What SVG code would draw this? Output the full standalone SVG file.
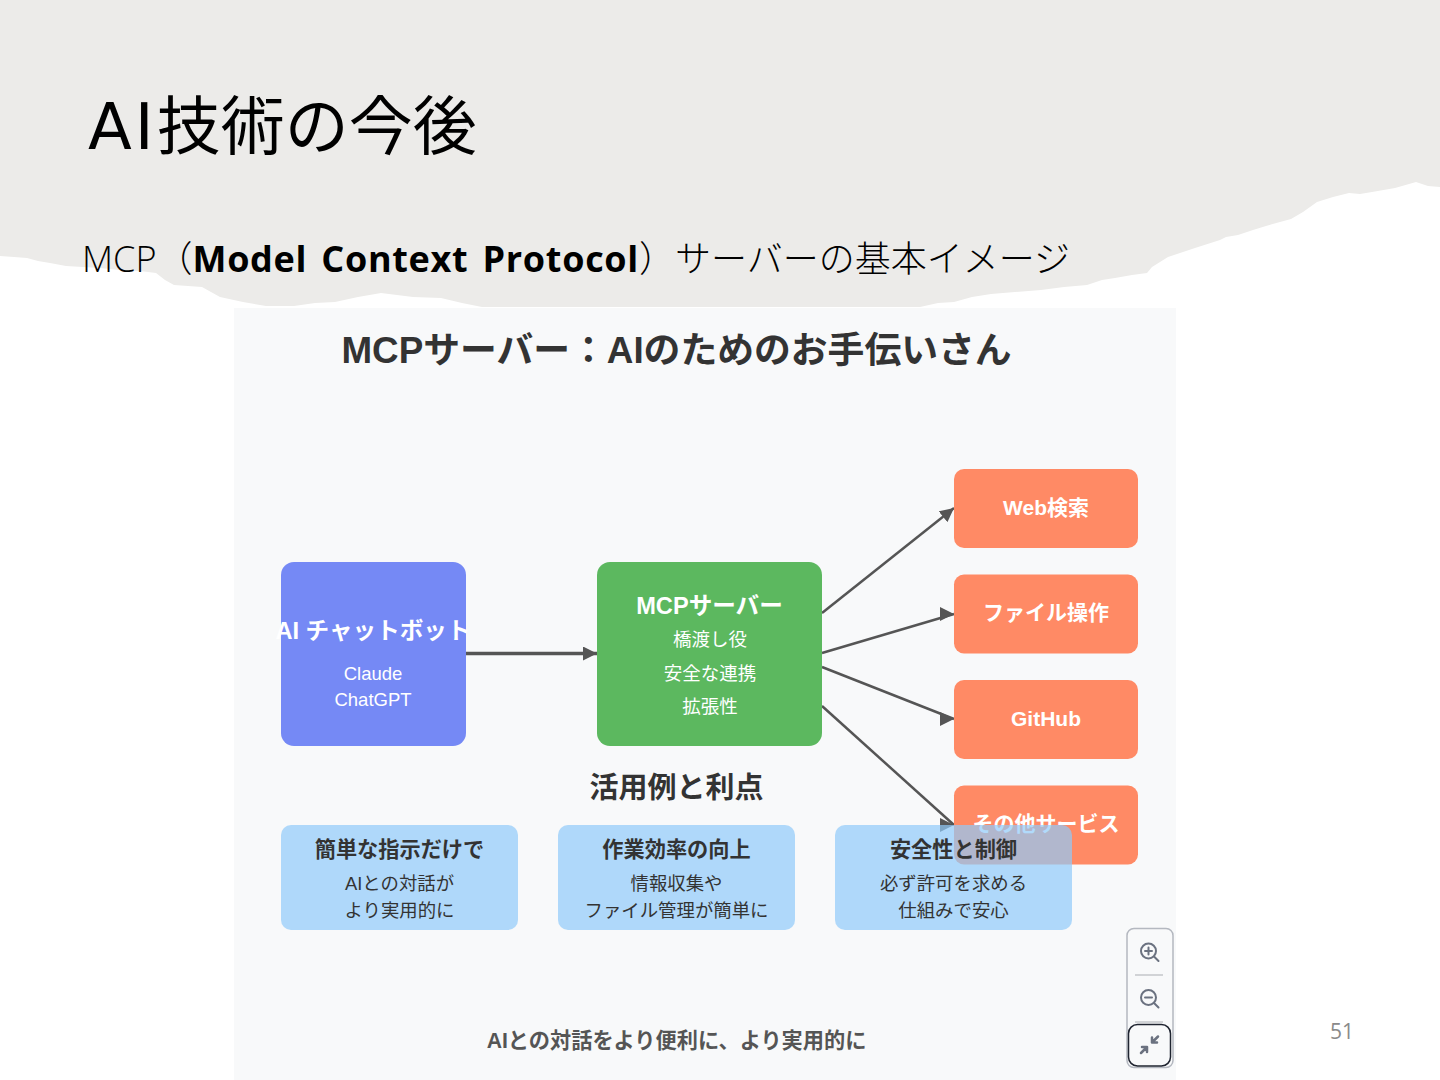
<svg xmlns="http://www.w3.org/2000/svg" width="1440" height="1080" viewBox="0 0 1440 1080">
<style>
text{font-family:"Liberation Sans","Noto Sans CJK JP",sans-serif;text-anchor:middle}
.slide{font-family:"Open Sans","Noto Sans CJK JP",sans-serif;text-anchor:start;fill:#000}
.h{font-weight:700;fill:#fff;font-size:23.600px}
.o2{font-weight:700;fill:#fff;font-size:21px}
.s{fill:#fff;font-size:18.500px}
.d{font-weight:700;fill:#333;font-size:21.200px}
.t{fill:#333;font-size:18.400px}
.c{fill:none;stroke:#555;stroke-width:2.500;marker-end:url(#a)}
.o{fill:#ff8a65}
.b{fill:#90caf9;opacity:.7}
.i{fill:none;stroke:#6b7280;stroke-width:2;stroke-linecap:round;stroke-linejoin:round}
</style>
<defs>
<marker id="a" markerUnits="userSpaceOnUse" markerWidth="14" markerHeight="14" refX="14" refY="7" orient="0"><path d="M0 0L14 7L0 14Z" fill="#555"/></marker>
<marker id="r" markerUnits="userSpaceOnUse" markerWidth="14" markerHeight="14" refX="14" refY="7" orient="auto"><path d="M0 0L14 7L0 14Z" fill="#555"/></marker>
</defs>
<rect width="1440" height="1080" fill="#fff"/>
<path d="M0 256L14 257L27 258L38 261L50 263L66 266L83 267L100 268L120 270L140 271L156 273L165 280L174 285L188 286L202 287L211 292L220 297L243 302L266 306L294 306L315 303L335 302L358 297L381 293L397 295L413 297L441 298L462 303L482 307L920 307L938 303L954 302L972 297L991 294L1015 292L1041 290L1064 287L1087 285L1102 280L1115 278L1132 275L1147 273L1152 267L1168 257L1195 248L1220 240L1226 237L1238 235L1253 230L1266 226L1280 222L1291 219L1303 212L1317 202L1333 197L1349 193L1360 194L1372 192L1395 188L1416 182L1428 186L1440 187L1440 0L0 0Z" fill="#ecebe9"/>
<text class="slide" x="88" y="149" font-size="64" font-weight="400"><tspan style="font-family:'DejaVu Sans',sans-serif" letter-spacing="3">AI</tspan>技術の今後</text>
<text class="slide" x="82" y="272" font-size="36" font-weight="300">MCP（<tspan font-weight="700" letter-spacing=".7" word-spacing="4">Model Context Protocol</tspan>）サーバーの基本イメージ</text>
<rect id="panel" x="234" y="308" width="942" height="772" fill="#f8f9fa"/>
<text x="676.500" y="363" font-size="36.800" font-weight="700" fill="#333">MCPサーバー：AIのためのお手伝いさん</text>
<g id="connectors">
<path class="c" style="stroke-width:3.500" d="M466 653.500H597"/>
<path class="c" style="marker-end:url(#r)" d="M822 613L954 508"/>
<path class="c" d="M822 653L954 614"/>
<path class="c" d="M822 667L954 719"/>
<path class="c" d="M822 706L954 825"/>
</g>
<g id="ai"><rect x="281" y="562" width="185" height="184" rx="13" fill="#7589f5"/>
<text class="h" x="373" y="639">AI チャットボット</text><text class="s" x="373" y="680">Claude</text><text class="s" x="373" y="706">ChatGPT</text></g>
<g id="mcp"><rect x="597" y="562" width="225" height="184" rx="13" fill="#5cb85f"/>
<text class="h" x="709.500" y="614">MCPサーバー</text><text class="s" x="710" y="646">橋渡し役</text><text class="s" x="710" y="680">安全な連携</text><text class="s" x="710" y="713">拡張性</text></g>
<g id="web"><rect class="o" x="954" y="469" width="184" height="79" rx="10"/><text class="o2" x="1046" y="515">Web検索</text></g>
<g id="file"><rect class="o" x="954" y="574.500" width="184" height="79" rx="10"/><text class="o2" x="1046" y="620">ファイル操作</text></g>
<g id="github"><rect class="o" x="954" y="680" width="184" height="79" rx="10"/><text class="o2" x="1046" y="726">GitHub</text></g>
<g id="other"><rect class="o" x="954" y="785.500" width="184" height="79" rx="10"/><text class="o2" x="1046" y="831">その他サービス</text></g>
<text class="d" x="676.500" y="798" style="font-size:29px">活用例と利点</text>
<g id="b1"><rect class="b" x="281" y="825" width="237" height="105" rx="10"/><text class="d" x="399.500" y="857">簡単な指示だけで</text><text class="t" x="399.500" y="890">AIとの対話が</text><text class="t" x="399.500" y="917">より実用的に</text></g>
<g id="b2"><rect class="b" x="558" y="825" width="237" height="105" rx="10"/><text class="d" x="676.500" y="857">作業効率の向上</text><text class="t" x="676.500" y="890">情報収集や</text><text class="t" x="676.500" y="917">ファイル管理が簡単に</text></g>
<g id="b3"><rect class="b" x="835" y="825" width="237" height="105" rx="10"/><text class="d" x="953.500" y="857">安全性と制御</text><text class="t" x="953.500" y="890">必ず許可を求める</text><text class="t" x="953.500" y="917">仕組みで安心</text></g>
<text x="676.500" y="1048" font-size="21.200" font-weight="700" fill="#555">AIとの対話をより便利に、より実用的に</text>
<g id="toolbar">
<rect x="1127" y="928.500" width="46" height="139" rx="7" fill="#f8f9fa" stroke="#b4b8c0" stroke-width="1.500"/>
<path d="M1135 975H1163M1135 1022H1163" stroke="#c4c6ca" stroke-width="1.500"/>
<circle class="i" cx="1148.500" cy="951" r="7.500"/><path class="i" d="M1154.500 957L1158.500 961M1148.500 947.500V954.500M1145 951H1152"/>
<circle class="i" cx="1148.500" cy="997.500" r="7.500"/><path class="i" d="M1154.500 1003.500L1158.500 1007.500M1145 997.500H1152"/>
<rect x="1128.500" y="1024.500" width="42" height="41.500" rx="9" fill="#f8f9fa" stroke="#1f2430" stroke-width="1.500"/>
<path class="i" style="stroke-width:2.500" d="M1141 1053L1147 1047M1142 1047H1147V1052M1158 1036.500L1152 1042.500M1152 1037.500V1042.500H1157"/>
</g>
<text x="1342" y="1039" font-size="21" style="font-family:'Open Sans',sans-serif" fill="#8a8a8a">51</text>
</svg>
